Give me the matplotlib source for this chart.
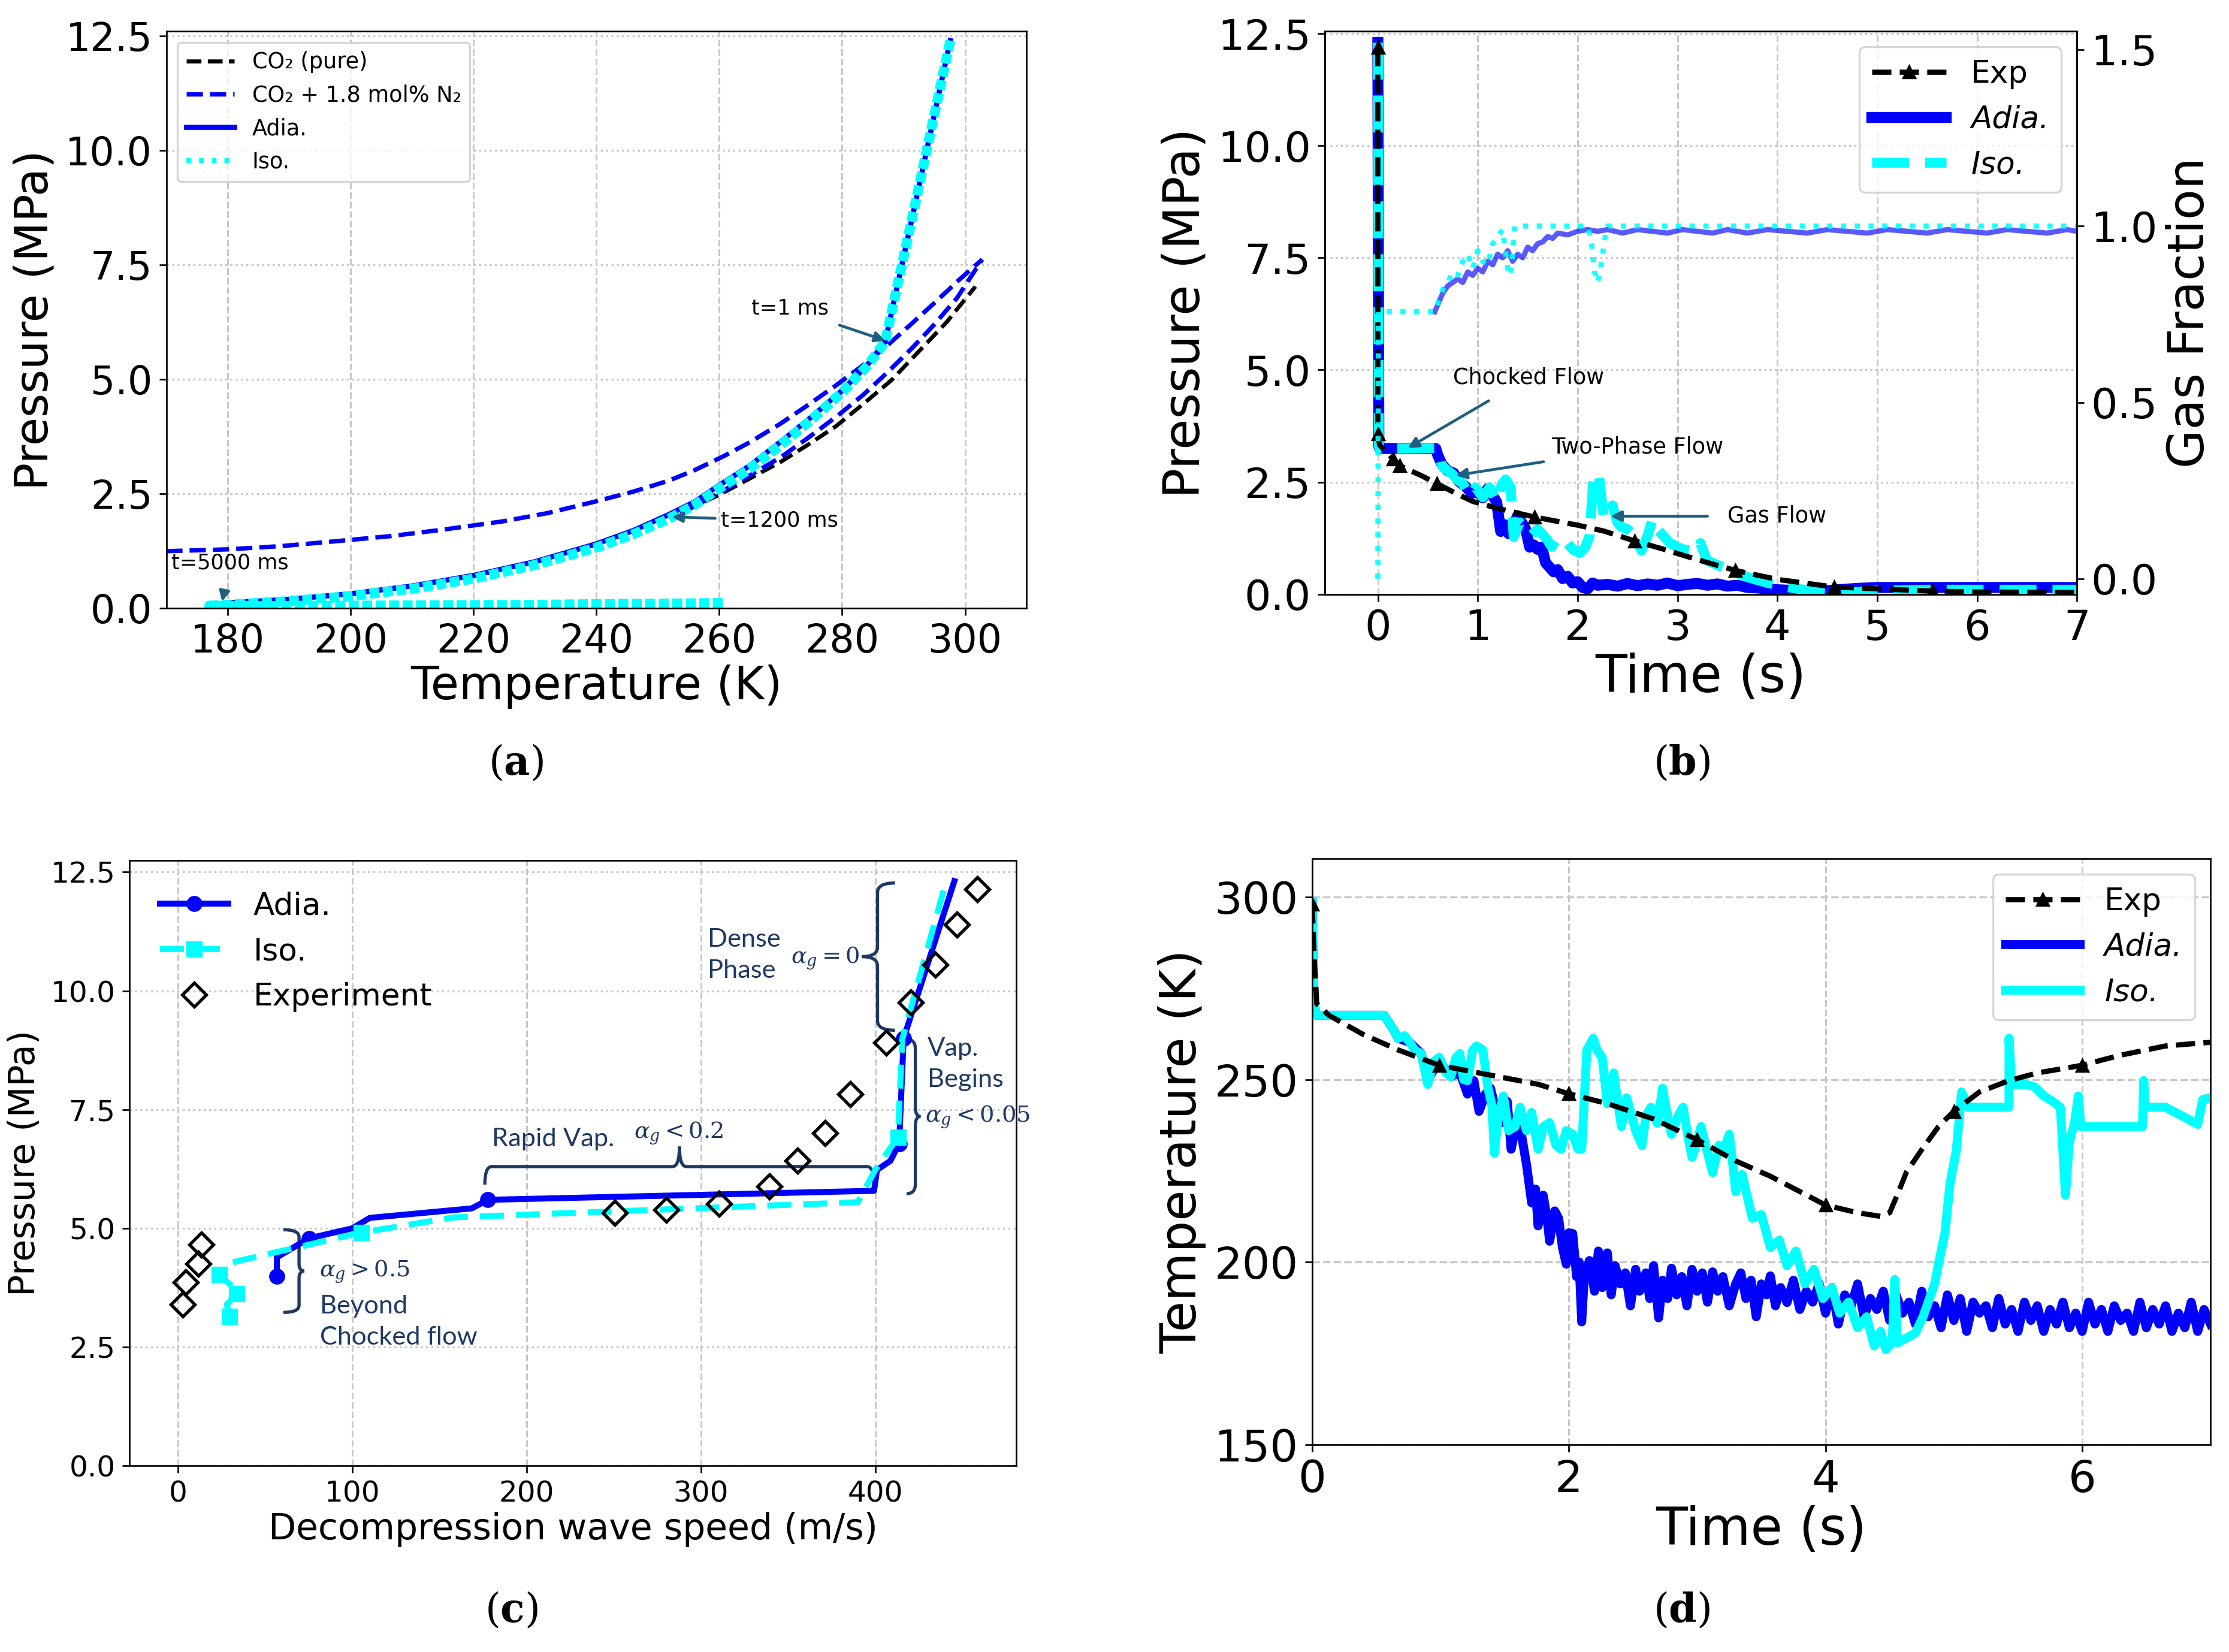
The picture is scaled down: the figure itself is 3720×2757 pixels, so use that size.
import matplotlib
matplotlib.use("Agg")
import matplotlib.pyplot as plt
from matplotlib.lines import Line2D
from matplotlib.path import Path
from matplotlib.patches import PathPatch

plt.rcParams["font.family"] = "DejaVu Sans"
plt.rcParams["mathtext.fontset"] = "dejavuserif"

NAVY = "#1f3864"
ARROW = "#1f5f7f"

# =============================================
# (a) Pressure vs temperature
# =============================================
A_PURE_T = [254.5, 260, 265.3, 270, 274.4, 279, 283.4, 288, 292.4, 297, 301.7]
A_PURE_P = [2.14, 2.48, 2.86, 3.20, 3.57, 3.98, 4.46, 4.98, 5.60, 6.25, 7.03]

A_BUB_T = [170, 180, 188.6, 197, 206.6, 215, 224.7, 232, 240, 246, 251.8, 256,
           260.8, 265, 269.8, 274, 278.9, 283, 287, 291, 295.1, 299, 302.8]
A_BUB_P = [1.25, 1.29, 1.36, 1.46, 1.58, 1.72, 1.90, 2.08, 2.34, 2.55, 2.79, 3.02,
           3.33, 3.63, 4.02, 4.40, 4.86, 5.27, 5.70, 6.18, 6.68, 7.17, 7.62]

A_DEW_T = [250, 255.4, 260, 265.3, 270, 274.4, 279, 283.4, 287.5, 291.5, 295, 298.7, 302.8]
A_DEW_P = [1.95, 2.19, 2.52, 2.93, 3.30, 3.72, 4.18, 4.66, 5.17, 5.70, 6.20, 6.78, 7.62]

A_ADIA_T = [180, 190, 200, 210, 220, 230, 240, 246, 251.8, 256, 260, 265, 269.8,
            275, 280, 284, 287, 292, 297.6]
A_ADIA_P = [0.12, 0.20, 0.32, 0.49, 0.72, 1.02, 1.41, 1.70, 2.05, 2.33, 2.69, 3.12,
            3.62, 4.18, 4.76, 5.30, 5.82, 8.9, 12.4]

A_ISO_T = [297.6, 292, 287, 284, 280, 275, 269.8, 265, 260, 256, 251.8, 246, 240,
           230, 220, 210, 200, 190, 180, 177, 185, 200, 215, 230, 245, 255, 261]
A_ISO_P = [12.4, 8.9, 5.82, 5.28, 4.72, 4.12, 3.55, 3.05, 2.62, 2.26, 1.96, 1.62, 1.33,
           0.95, 0.65, 0.43, 0.27, 0.16, 0.08, 0.06, 0.05, 0.06, 0.07, 0.08, 0.10, 0.11, 0.12]

# =============================================
# (b) Pressure and gas fraction vs time
# =============================================
B_EXP_T = [0, 0, 0.017, 0.05, 0.086, 0.15, 0.22, 0.30, 0.43, 0.59, 0.78, 0.95, 1.19,
           1.57, 2.0, 2.26, 2.57, 2.85, 3.2, 3.58, 4.0, 4.57, 5.0, 5.55, 6.0, 7.0]
B_EXP_P = [12.2, 3.57, 3.33, 3.25, 3.18, 3.02, 2.87, 2.78, 2.65, 2.47, 2.25, 2.07, 1.92,
           1.72, 1.54, 1.41, 1.19, 1.01, 0.77, 0.53, 0.33, 0.16, 0.12, 0.07, 0.05, 0.04]
B_EXP_MARKS = [0, 1, 5, 6, 9, 13, 16, 19, 21, 23]

B_ADIA_T = [0, 0.01, 0.02, 0.30, 0.58, 0.60, 0.64, 0.70, 0.76, 0.82, 0.88, 0.94, 1.00, 1.05, 1.10, 1.15, 1.19,
            1.23, 1.27, 1.31, 1.35, 1.40, 1.44, 1.48, 1.52, 1.56, 1.60, 1.64, 1.68, 1.72, 1.76, 1.80, 1.85, 1.90, 1.95, 2.00, 2.05, 2.10, 2.15, 2.20,
            2.30, 2.40, 2.50, 2.60, 2.70, 2.80, 2.90, 3.00, 3.10, 3.20, 3.30, 3.40, 3.50, 3.60, 3.70, 3.80, 3.90, 4.00,
            4.20, 4.40, 4.60, 4.80, 5.00, 5.50, 6.00, 6.50, 7.00]
B_ADIA_P = [12.3, 3.3, 3.25, 3.25, 3.25, 3.1, 2.9, 2.75, 2.7, 2.5, 2.4, 2.25, 2.3, 2.15, 2.35, 2.2, 2.05,
            1.4, 1.55, 1.35, 1.5, 1.75, 1.6, 1.45, 1.05, 1.1, 1.0, 1.05, 0.7, 0.6, 0.5, 0.55, 0.35, 0.4, 0.25, 0.28, 0.15, 0.12, 0.25, 0.2,
            0.22, 0.18, 0.24, 0.19, 0.23, 0.2, 0.25, 0.19, 0.22, 0.24, 0.2, 0.23, 0.18, 0.2, 0.15, 0.14, 0.12, 0.1,
            0.08, 0.06, 0.1, 0.13, 0.15, 0.15, 0.15, 0.15, 0.15]

B_ISO_T = [0, 0.01, 0.02, 0.30, 0.57, 0.62, 0.64, 0.70, 0.74, 0.80, 0.85, 0.92, 0.98, 1.05, 1.12, 1.19, 1.24, 1.28, 1.33, 1.36,
           1.42, 1.47, 1.54, 1.60, 1.64, 1.70, 1.74, 1.80, 1.88, 1.95, 2.02, 2.08, 2.12, 2.16, 2.21, 2.26, 2.30, 2.35, 2.40, 2.44,
           2.50, 2.57, 2.64, 2.70, 2.75, 2.80, 2.85, 2.92, 2.99, 3.06, 3.13, 3.20, 3.23, 3.27, 3.30,
           3.40, 3.54, 3.70, 3.89, 4.05, 4.23, 4.40, 4.58, 4.80, 5.00, 5.50, 6.00, 6.50, 7.00]
B_ISO_P = [12.3, 3.3, 3.25, 3.25, 3.26, 3.09, 2.87, 2.75, 2.69, 2.55, 2.47, 2.20, 2.38, 2.16, 2.38, 2.07, 2.45, 2.56, 2.38, 1.28,
           1.6, 1.50, 1.32, 1.45, 1.36, 1.2, 1.06, 1.25, 1.19, 1.0, 0.92, 1.06, 1.3, 2.65, 2.69, 1.76, 1.7, 1.98, 1.6, 1.50,
           1.45, 1.32, 0.97, 1.3, 1.67, 1.45, 1.32, 1.15, 1.06, 1.0, 0.97, 0.95, 1.14, 0.9, 0.75,
           0.65, 0.53, 0.38, 0.26, 0.18, 0.11, 0.07, 0.04, 0.05, 0.08, 0.1, 0.1, 0.1, 0.1]

B_ISO_GF_T = [0, 0.005, 0.57, 0.6, 0.65, 0.7, 0.75, 0.8, 0.85, 0.9, 0.95, 1.0, 1.05, 1.1,
              1.15, 1.2, 1.25, 1.3, 1.33, 1.37, 2.1, 2.14, 2.17, 2.2, 2.23, 2.27, 2.3, 7.0]
B_ISO_GF = [0.0, 0.757, 0.757, 0.78, 0.82, 0.84, 0.87, 0.86, 0.90, 0.92, 0.88, 0.93, 0.90, 0.89,
            0.95, 0.97, 0.99, 0.88, 0.86, 1.0, 1.0, 0.95, 0.87, 0.84, 0.88, 0.96, 1.0, 1.0]

B_ADIA_GF_T = [0.57, 0.62, 0.65, 0.70, 0.75, 0.80, 0.85, 0.90, 0.95, 1.00, 1.05, 1.10, 1.15, 1.20, 1.25, 1.30, 1.35, 1.40, 1.45, 1.50,
               1.55, 1.60, 1.65, 1.70, 1.75, 1.80, 1.90, 2.00, 2.10, 2.20, 2.30, 2.45, 2.60, 2.75, 2.90, 3.05, 3.20, 3.35, 3.50,
               3.70, 3.90, 4.10, 4.30, 4.50, 4.70, 4.90, 5.10, 5.30, 5.50, 5.70, 5.90, 6.10, 6.30, 6.50, 6.70, 6.90, 7.00]
B_ADIA_GF = [0.757, 0.79, 0.81, 0.83, 0.84, 0.85, 0.84, 0.87, 0.86, 0.88, 0.87, 0.90, 0.89, 0.92, 0.91, 0.93, 0.90, 0.92, 0.91, 0.94,
             0.93, 0.95, 0.955, 0.97, 0.965, 0.98, 0.975, 0.985, 0.99, 0.985, 0.99, 0.98, 0.99, 0.985, 0.98, 0.99, 0.985, 0.98, 0.99,
             0.98, 0.99, 0.985, 0.98, 0.99, 0.985, 0.98, 0.99, 0.985, 0.98, 0.99, 0.985, 0.98, 0.99, 0.985, 0.98, 0.99, 0.985]

# =============================================
# (c) Pressure vs decompression wave speed
# =============================================
C_ADIA_V = [56.7, 56.7, 75.1, 100, 110, 168.5, 177.8, 399.3, 401, 408.7, 413.7, 416.3, 445.4]
C_ADIA_P = [3.99, 4.39, 4.79, 5.0, 5.22, 5.42, 5.60, 5.79, 6.23, 6.42, 6.78, 9.0, 12.31]
C_ADIA_MARKS = [0, 2, 6, 10, 11]

C_ISO_V = [29.5, 28, 33.5, 32, 23.5, 29.5, 105, 158, 390, 400, 413, 415.5, 440.5]
C_ISO_P = [3.15, 3.4, 3.62, 3.75, 4.03, 4.27, 4.91, 5.23, 5.55, 6.23, 6.92, 8.98, 12.28]
C_ISO_MARKS = [0, 2, 4, 6, 10]

C_EXP_V = [2.7, 4.3, 11.7, 13.3, 250.5, 280.2, 310.3, 339.3, 355.3, 371.3, 385.7,
           406.3, 420.4, 434.4, 447.0, 458.7]
C_EXP_P = [3.40, 3.87, 4.25, 4.66, 5.33, 5.39, 5.52, 5.88, 6.42, 7.01, 7.82,
           8.91, 9.76, 10.55, 11.39, 12.14]

# =============================================
# (d) Temperature vs time
# =============================================
D_EXP_T = [0, 0.014, 0.036, 0.13, 0.40, 0.67, 0.99, 1.30, 1.76, 2.0, 2.3, 2.66, 3.0, 3.30, 3.57, 3.80,
           4.0, 4.25, 4.43, 4.5, 4.57, 4.63, 4.75, 4.88, 5.0, 5.2, 5.43, 5.65, 6.0, 6.29, 6.65, 7.0]
D_EXP_K = [298, 284.4, 270.7, 267.6, 262.3, 258.1, 253.9, 251.8, 248.7, 246.1, 243.4, 239.2, 233.5, 227.7, 223.5, 219.3,
           215.6, 213.5, 212.5, 213.5, 219.3, 224.6, 230.8, 237.1, 241.3, 246.6, 249.7, 251.8, 253.9, 256.6, 259.2, 260.2]
D_EXP_MARKS = [0, 6, 9, 12, 16, 24, 28]

D_ADIA_T = [0, 0.01, 0.03, 0.56, 0.62, 0.67, 0.76, 0.85, 0.90, 0.99, 1.08, 1.15, 1.21,
            1.26, 1.30, 1.35, 1.39, 1.44, 1.49, 1.52, 1.55, 1.58, 1.62, 1.67, 1.71, 1.74, 1.76, 1.80, 1.83, 1.85, 1.89, 1.92, 1.95, 1.98, 2.00, 2.03, 2.06, 2.08,
            2.10, 2.12, 2.16, 2.20, 2.23, 2.26, 2.30, 2.33, 2.36, 2.40, 2.44, 2.48, 2.52, 2.55, 2.60, 2.63, 2.66, 2.70, 2.73, 2.77, 2.80, 2.84, 2.88, 2.92, 2.96, 3.00,
            3.04, 3.08, 3.12, 3.16, 3.20, 3.25, 3.30, 3.34, 3.38, 3.42, 3.46, 3.50, 3.54, 3.57, 3.61, 3.65, 3.70, 3.75, 3.80, 3.85, 3.90, 3.95,
            4.00, 4.05, 4.10, 4.15, 4.20, 4.25, 4.30, 4.35, 4.40, 4.45, 4.50, 4.55, 4.60, 4.65, 4.70, 4.75, 4.80, 4.85, 4.90, 4.95,
            5.00, 5.05, 5.10, 5.15, 5.20, 5.25, 5.30, 5.35, 5.40, 5.45, 5.50, 5.55, 5.60, 5.65, 5.70, 5.75, 5.80, 5.85, 5.90, 5.95,
            6.00, 6.05, 6.10, 6.15, 6.20, 6.25, 6.30, 6.35, 6.40, 6.45, 6.50, 6.55, 6.60, 6.65, 6.70, 6.75, 6.80, 6.85, 6.90, 6.95, 7.00]
D_ADIA_K = [298.5, 272, 267.6, 267.6, 264.4, 261.3, 260.2, 257.1, 250, 255, 250.8, 252, 246,
            249.7, 241.3, 246, 247.6, 240, 238.2, 244, 230.9, 236, 237.1, 226.7, 216.2, 220, 209.9, 218.3, 212, 205.7, 214, 212.0, 204, 199.4, 208, 207.8, 196, 200,
            183.6, 196, 200.4, 192, 203, 193, 202.5, 191, 199, 194, 197, 188, 198, 192, 197, 190, 199, 184.7, 195, 190, 198.3, 191, 196, 188, 198, 192,
            197, 189, 197.3, 192, 196, 188, 194, 197, 190, 195, 185, 194, 191, 196.2, 188, 193, 188.9, 195, 187, 192, 189, 194.1,
            186, 193, 183, 191, 188, 194, 185, 190, 187, 192, 184, 191, 186, 189, 183, 192, 185, 188, 182, 191,
            184, 190, 181, 189, 186, 188, 182, 190, 183, 187, 181, 189, 184, 188, 181, 187, 183, 189, 182, 186,
            181, 189, 183, 187, 181, 188, 184, 186, 181, 189, 182, 187, 183, 188, 181, 186, 182, 189, 181, 187, 183]

D_ISO_T = [0, 0.01, 0.03, 0.56, 0.62, 0.67, 0.72, 0.76, 0.80, 0.85, 0.90, 0.95, 0.99, 1.04, 1.08, 1.12, 1.15, 1.18, 1.21, 1.25,
           1.28, 1.33, 1.37, 1.40, 1.42, 1.45, 1.49, 1.53, 1.58, 1.62, 1.67, 1.71, 1.76, 1.80, 1.85, 1.90, 1.94, 1.98, 2.03, 2.07,
           2.10, 2.14, 2.19, 2.22, 2.26, 2.30, 2.35, 2.38, 2.41, 2.45, 2.48, 2.52, 2.57, 2.60, 2.64, 2.69, 2.73, 2.77, 2.80, 2.85,
           2.89, 2.93, 2.96, 3.00, 3.03, 3.08, 3.12, 3.17, 3.21, 3.25, 3.28, 3.30, 3.35, 3.43, 3.50, 3.57, 3.64, 3.70, 3.77, 3.84,
           3.91, 3.98, 4.05, 4.11, 4.18, 4.25, 4.32, 4.38, 4.43, 4.47, 4.52, 4.54, 4.56, 4.62, 4.70, 4.76, 4.81, 4.85, 4.88, 4.93,
           4.97, 5.02, 5.06, 5.11, 5.43, 5.43, 5.45, 5.56, 5.63, 5.70, 5.77, 5.83, 5.87, 5.90, 5.94, 5.97, 5.99, 6.47, 6.48, 6.49,
           6.65, 6.78, 6.90, 6.94, 7.0]
D_ISO_K = [298.5, 272, 267.6, 267.6, 264.4, 261.3, 262, 260.2, 258, 257.1, 248.7, 255, 256.1, 252, 250.8, 256, 257.1, 250, 249.7, 258,
           259.2, 258.1, 247.6, 243, 229.8, 240, 245.5, 236, 237.1, 242.4, 236, 241, 230.9, 237, 238.2, 232, 230.9, 236, 235.0, 231,
           230.9, 258.1, 261.3, 258, 256.1, 243.4, 251.8, 244, 237.1, 245, 241.3, 236, 231.9, 240, 242.4, 238, 247.6, 240, 235.0, 240,
           242.4, 234, 228.7, 233, 237.1, 230, 224.5, 232, 230.9, 235.0, 226, 219.3, 224, 212, 213, 204, 206, 199, 203, 194,
           198, 190, 193, 186, 189, 182, 185, 177, 181, 176, 178, 195.2, 177.8, 179, 180.5, 185, 190.0, 194, 199.4, 207.8,
           221.4, 230.8, 246.6, 242.4, 242.4, 261.3, 248.7, 248.7, 248, 245.5, 244, 242.4, 218.3, 233.0, 238, 245.5, 237.1, 237.1, 249.7, 242.4,
           242.4, 240, 237.7, 244.5, 245]


def style_grid(ax, ydot=True):
    ax.grid(True, axis="x", color="#c8c8c8", linestyle="--", linewidth=0.9)
    ax.grid(True, axis="y", color="#c8c8c8", linestyle=":" if ydot else "--", linewidth=1.0)
    ax.set_axisbelow(True)


def draw_brace(ax, a, b, pos, hook, tip, d, vertical=True):
    m = (a + b) / 2
    along = [a, a, a + d, m - d, m, m, m, m + d, b - d, b, b]
    cross = [pos + hook, pos, pos, pos, pos, pos + tip, pos, pos, pos, pos, pos + hook]
    verts = list(zip(cross, along)) if vertical else list(zip(along, cross))
    codes = [Path.MOVETO, Path.CURVE3, Path.CURVE3, Path.LINETO, Path.CURVE3, Path.CURVE3,
             Path.CURVE3, Path.CURVE3, Path.LINETO, Path.CURVE3, Path.CURVE3]
    ax.add_patch(PathPatch(Path(verts, codes), fill=False, edgecolor=NAVY, lw=1.6, clip_on=False))


def italic_legend(leg, names):
    for txt in leg.get_texts():
        if txt.get_text() in names:
            txt.set_fontstyle("italic")


def panel_a(fig):
    ax = fig.add_axes([0.0746, 0.6317, 0.3859, 0.3493])
    l1, = ax.plot(A_PURE_T, A_PURE_P, color="black", ls="--", lw=2.0)
    l2, = ax.plot(A_BUB_T, A_BUB_P, color="blue", ls="--", lw=2.2)
    ax.plot(A_DEW_T, A_DEW_P, color="blue", ls="--", lw=2.2)
    l3, = ax.plot(A_ADIA_T, A_ADIA_P, color="blue", ls="-", lw=2.6)
    ax.plot(A_ISO_T, A_ISO_P, color="cyan", lw=5.0, dashes=(1.0, 0.35))
    iso_handle = Line2D([], [], color="cyan", ls=":", lw=2.4)

    ax.annotate("t=1 ms", xy=(287, 5.85), xytext=(271.5, 6.55), fontsize=10.5, ha="center", va="center",
                arrowprops=dict(arrowstyle="-|>", color=ARROW, lw=1.4, shrinkA=4, shrinkB=0))
    ax.annotate("t=1200 ms", xy=(252.3, 2.0), xytext=(260.3, 1.92), fontsize=10.5, ha="left", va="center",
                arrowprops=dict(arrowstyle="-|>", color=ARROW, lw=1.4, shrinkA=1, shrinkB=0))
    ax.annotate("t=5000 ms", xy=(179.1, 0.15), xytext=(180.4, 0.99), fontsize=10.5, ha="center", va="center",
                arrowprops=dict(arrowstyle="-|>", color=ARROW, lw=1.4, shrinkA=8, shrinkB=0))

    ax.set_xlim(170, 310)
    ax.set_ylim(0, 12.6)
    ax.set_xticks([180, 200, 220, 240, 260, 280, 300])
    ax.set_yticks([0, 2.5, 5, 7.5, 10, 12.5])
    ax.set_yticklabels(["0.0", "2.5", "5.0", "7.5", "10.0", "12.5"])
    ax.tick_params(labelsize=19.5)
    ax.set_xlabel("Temperature (K)", fontsize=23, labelpad=2)
    ax.set_ylabel("Pressure (MPa)", fontsize=23)
    style_grid(ax)
    ax.legend([l1, l2, l3, iso_handle], ["CO₂ (pure)", "CO₂ + 1.8 mol% N₂", "Adia.", "Iso."],
              loc="upper left", fontsize=11, handlelength=2.2, borderaxespad=0.5)


def panel_b(fig):
    ax = fig.add_axes([0.5944, 0.6403, 0.3374, 0.3407])
    ax2 = ax.twinx()
    l_adia, = ax.plot(B_ADIA_T, B_ADIA_P, color="blue", lw=5.5, label="Adia.")
    l_iso, = ax.plot(B_ISO_T, B_ISO_P, color="cyan", ls="--", lw=5, label="Iso.")
    l_exp, = ax.plot(B_EXP_T, B_EXP_P, color="black", ls="--", lw=2.6, marker="^", ms=6,
                     markevery=B_EXP_MARKS, label="Exp", zorder=5)

    ax2.plot(B_ADIA_GF_T, B_ADIA_GF, color="blue", alpha=0.65, lw=2.6)
    ax2.plot(B_ISO_GF_T, B_ISO_GF, color="cyan", ls=":", lw=2.6, alpha=0.9)

    ax.annotate("Chocked Flow", xy=(0.30, 3.26), xytext=(0.75, 4.83), fontsize=11, ha="left", va="center",
                arrowprops=dict(arrowstyle="-|>", color=ARROW, lw=1.4, shrinkA=8, shrinkB=0))
    ax.annotate("Two-Phase Flow", xy=(0.78, 2.65), xytext=(1.74, 3.28), fontsize=11, ha="left", va="center",
                arrowprops=dict(arrowstyle="-|>", color=ARROW, lw=1.4, shrinkA=2, shrinkB=0))
    ax.annotate("Gas Flow", xy=(2.33, 1.74), xytext=(3.5, 1.74), fontsize=11, ha="left", va="center",
                arrowprops=dict(arrowstyle="-|>", color=ARROW, lw=1.4, shrinkA=8, shrinkB=0))

    ax.set_xlim(-0.53, 7)
    ax.set_ylim(0, 12.55)
    ax.set_xticks(range(0, 8))
    ax.set_yticks([0, 2.5, 5, 7.5, 10, 12.5])
    ax.set_yticklabels(["0.0", "2.5", "5.0", "7.5", "10.0", "12.5"])
    ax.tick_params(labelsize=21)
    ax.set_xlabel("Time (s)", fontsize=26, labelpad=2)
    ax.set_ylabel("Pressure (MPa)", fontsize=25)
    style_grid(ax)

    ax2.set_ylim(-0.044, 1.552)
    ax2.set_yticks([0, 0.5, 1.0, 1.5])
    ax2.set_yticklabels(["0.0", "0.5", "1.0", "1.5"])
    ax2.tick_params(labelsize=21)
    ax2.set_ylabel("Gas Fraction", fontsize=25)

    leg = ax2.legend([l_exp, l_adia, l_iso], ["Exp", "Adia.", "Iso."], loc="upper right",
                     fontsize=15.5, handlelength=2.4)
    italic_legend(leg, ["Adia.", "Iso."])


def panel_c(fig):
    ax = fig.add_axes([0.058, 0.1127, 0.398, 0.3666])
    ax.plot(C_ADIA_V, C_ADIA_P, color="blue", lw=3, marker="o", ms=7, markevery=C_ADIA_MARKS, label="Adia.")
    ax.plot(C_ISO_V, C_ISO_P, color="cyan", lw=3, ls="--", marker="s", ms=7, markevery=C_ISO_MARKS,
            dashes=(4, 2), label="Iso.")
    ax.plot(C_EXP_V, C_EXP_P, ls="none", marker="D", ms=8.5, mfc="none", mec="black", mew=1.6,
            label="Experiment")

    draw_brace(ax, 176, 399.3, 6.3, -0.38, 0.42, 4, vertical=False)
    draw_brace(ax, 9.17, 12.27, 401.3, 10, -9, 0.2)
    draw_brace(ax, 5.73, 8.98, 423, -5, 3, 0.2)
    draw_brace(ax, 3.23, 4.97, 69.4, -9, 3, 0.15)

    tk = dict(color=NAVY, family="Lato", fontsize=13, va="center", linespacing=1.45)
    ax.text(180, 6.88, "Rapid Vap.", ha="left", **tk)
    ax.text(304, 10.75, "Dense\nPhase", ha="left", **tk)
    ax.text(430, 8.46, "Vap.\nBegins", ha="left", **tk)
    ax.text(81.5, 3.03, "Beyond\nChocked flow", ha="left", **tk)
    mk = dict(color=NAVY, fontsize=11.5, va="center")
    ax.text(287, 7.0, r"$\alpha_g < 0.2$", ha="center", **mk)
    ax.text(391, 10.69, r"$\alpha_g = 0$", ha="right", **mk)
    ax.text(428.5, 7.34, r"$\alpha_g < 0.05$", ha="left", **mk)
    ax.text(81, 4.09, r"$\alpha_g > 0.5$", ha="left", **mk)

    ax.set_xlim(-28, 481)
    ax.set_ylim(0, 12.75)
    ax.set_xticks([0, 100, 200, 300, 400])
    ax.set_yticks([0, 2.5, 5, 7.5, 10, 12.5])
    ax.set_yticklabels(["0.0", "2.5", "5.0", "7.5", "10.0", "12.5"])
    ax.tick_params(labelsize=14.5)
    ax.set_xlabel("Decompression wave speed (m/s)", fontsize=18, labelpad=2)
    ax.set_ylabel("Pressure (MPa)", fontsize=18)
    style_grid(ax)
    ax.legend(loc="upper left", fontsize=15.5, frameon=False, handlelength=2.2, borderaxespad=0.6)


def panel_d(fig):
    ax = fig.add_axes([0.5887, 0.1256, 0.403, 0.3546])
    ax.plot(D_ADIA_T, D_ADIA_K, color="blue", lw=4.5, label="Adia.")
    ax.plot(D_ISO_T, D_ISO_K, color="cyan", lw=4.5, label="Iso.")
    ax.plot(D_EXP_T, D_EXP_K, color="black", ls="--", lw=2.6, marker="^", ms=6,
            markevery=D_EXP_MARKS, label="Exp", zorder=5)

    ax.set_xlim(0, 7)
    ax.set_ylim(150, 310.5)
    ax.set_xticks([0, 2, 4, 6])
    ax.set_yticks([150, 200, 250, 300])
    ax.tick_params(labelsize=22)
    ax.set_xlabel("Time (s)", fontsize=26, labelpad=2)
    ax.set_ylabel("Temperature (K)", fontsize=25)
    style_grid(ax, ydot=False)

    handles, labels = ax.get_legend_handles_labels()
    order = [labels.index("Exp"), labels.index("Adia."), labels.index("Iso.")]
    leg = ax.legend([handles[i] for i in order], [labels[i] for i in order], loc="upper right",
                    fontsize=15.5, handlelength=2.4)
    italic_legend(leg, ["Adia.", "Iso."])


def main():
    fig = plt.figure(figsize=(15.5, 11.4875), dpi=240)
    panel_a(fig)
    panel_b(fig)
    panel_c(fig)
    panel_d(fig)

    cap = dict(fontsize=20, family="DejaVu Serif", ha="center", va="center")
    fig.text(0.2315, 0.5379, r"($\mathbf{a}$)", **cap)
    fig.text(0.7545, 0.5379, r"($\mathbf{b}$)", **cap)
    fig.text(0.2296, 0.025, r"($\mathbf{c}$)", **cap)
    fig.text(0.7545, 0.025, r"($\mathbf{d}$)", **cap)

    fig.savefig("out.png", dpi=240)
    plt.close(fig)


if __name__ == "__main__":
    main()
